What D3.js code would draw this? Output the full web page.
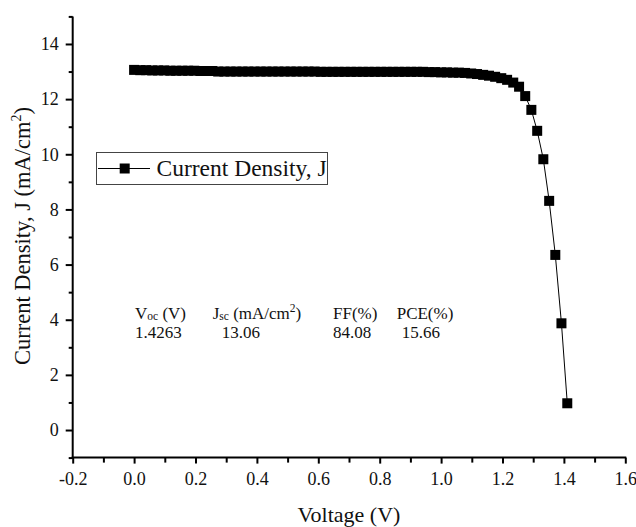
<!DOCTYPE html>
<html><head><meta charset="utf-8">
<script src="https://cdn.jsdelivr.net/npm/d3@7"></script>
<style>
body{margin:0;background:#fff}
svg{display:block}
svg text{font-family:"Liberation Serif","Times New Roman",serif !important;fill:#111}
</style></head>
<body><svg id="c" width="636" height="527"></svg>
<script>
// ---- data ----
const voltage = [
  0.000,0.020,0.039,0.059,0.078,0.098,0.118,0.137,0.157,0.176,
  0.196,0.216,0.235,0.255,0.274,0.294,0.314,0.333,0.353,0.372,
  0.392,0.412,0.431,0.451,0.470,0.490,0.510,0.529,0.549,0.568,
  0.588,0.608,0.627,0.647,0.666,0.686,0.706,0.725,0.745,0.764,
  0.784,0.804,0.823,0.843,0.862,0.882,0.902,0.921,0.941,0.960,
  0.980,1.000,1.019,1.039,1.058,1.078,1.098,1.117,1.137,1.156,
  1.176,1.196,1.215,1.235,1.254,1.274,1.294,1.313,1.333,1.352,
  1.372,1.392,1.411
];
const currentDensity = [
  13.06,13.05,13.05,13.04,13.04,13.04,13.03,13.03,13.03,13.03,
  13.03,13.02,13.02,13.02,13.00,13.00,13.00,13.00,13.00,13.00,
  13.00,13.00,13.00,13.00,13.00,13.00,13.00,13.00,13.00,13.00,
  13.00,12.99,12.99,12.99,12.99,12.99,12.99,12.99,12.99,12.99,
  12.99,12.99,12.99,12.99,12.99,12.99,12.99,12.99,12.99,12.98,
  12.98,12.97,12.97,12.96,12.96,12.95,12.93,12.91,12.88,12.85,
  12.81,12.76,12.70,12.60,12.45,12.11,11.61,10.85,9.82,8.31,
  6.35,3.87,0.97
];
const xMajorTicks = [-0.2,0.0,0.2,0.4,0.6,0.8,1.0,1.2,1.4,1.6];
const xTickLabels = ["-0.2","0.0","0.2","0.4","0.6","0.8","1.0","1.2","1.4","1.6"];
const xMinorTicks = [-0.1,0.1,0.3,0.5,0.7,0.9,1.1,1.3,1.5];
const yMajorTicks = [0,2,4,6,8,10,12,14];
const yMinorTicks = [-1,1,3,5,7,9,11,13,15];
const legendLabel = "Current Density, J";
const paramValues = ["1.4263","13.06","84.08","15.66"];

// ---- layout ----
const svg = d3.select("#c");
const x = d3.scaleLinear().domain([-0.2,1.6]).range([72.7,625.3]);
const y = d3.scaleLinear().domain([-1,15]).range([457.6,16.4]);

function styleAxis(g){
  g.attr("font-family",null);
  g.select(".domain").attr("stroke","#000").attr("stroke-width",2);
  g.selectAll(".tick line").attr("stroke","#000").attr("stroke-width",2);
  g.selectAll(".tick text").style("font-family","'Liberation Serif', serif").attr("font-size",18).attr("fill","#222");
}

// x axis
const gx = svg.append("g").attr("transform",`translate(0,${y(-1)})`)
  .call(d3.axisBottom(x).tickValues(xMajorTicks).tickSize(6).tickSizeOuter(0)
    .tickFormat((d,i)=>xTickLabels[i]).tickPadding(9));
styleAxis(gx);
gx.select(".domain").attr("d",`M${x(-0.2)-1},0H${x(1.6)+1}`);
svg.append("g").attr("transform",`translate(0,${y(-1)})`)
  .call(d3.axisBottom(x).tickValues(xMinorTicks).tickSize(5).tickFormat(""))
  .call(g=>{g.select(".domain").remove();g.selectAll("line").attr("stroke","#000").attr("stroke-width",2);});

// y axis
const gy = svg.append("g").attr("transform",`translate(${x(-0.2)},0)`)
  .call(d3.axisLeft(y).tickValues(yMajorTicks).tickSize(7).tickSizeOuter(0).tickPadding(7));
styleAxis(gy);
gy.select(".domain").attr("d",`M0,${y(15)}V${y(-1)+1}`);
svg.append("g").attr("transform",`translate(${x(-0.2)},0)`)
  .call(d3.axisLeft(y).tickValues(yMinorTicks).tickSize(4).tickFormat(""))
  .call(g=>{g.select(".domain").remove();g.selectAll("line").attr("stroke","#000").attr("stroke-width",2);});

// axis titles
svg.append("text").attr("x",(x(-0.2)+x(1.6))/2).attr("y",522).attr("text-anchor","middle")
  .attr("font-size",22).text("Voltage (V)");
const yt = svg.append("text").attr("transform",`translate(30,${236}) rotate(-90)`)
  .attr("text-anchor","middle").attr("font-size",22.5);
yt.append("tspan").text("Current Density, J (mA/cm");
yt.append("tspan").attr("font-size",14).attr("dy",-9).text("2");
yt.append("tspan").attr("dy",9).text(")");

// data line + markers
const pts = voltage.map((v,i)=>[v,currentDensity[i]]);
svg.append("path").datum(pts)
  .attr("d",d3.line().x(d=>x(d[0])).y(d=>y(d[1])))
  .attr("fill","none").attr("stroke","#000").attr("stroke-width",1);
const ms = 10;
svg.append("g").selectAll("rect").data(pts).join("rect")
  .attr("x",d=>x(d[0])-ms/2).attr("y",d=>y(d[1])-ms/2)
  .attr("width",ms).attr("height",ms).attr("fill","#000");

// legend
const lg = svg.append("g");
lg.append("rect").attr("x",96.5).attr("y",152.5).attr("width",231).attr("height",32)
  .attr("fill","#fff").attr("stroke","#444").attr("stroke-width",1);
lg.append("line").attr("x1",98).attr("x2",150).attr("y1",168.5).attr("y2",168.5)
  .attr("stroke","#000").attr("stroke-width",1);
lg.append("rect").attr("x",124.7-ms/2).attr("y",168.5-ms/2).attr("width",ms).attr("height",ms).attr("fill","#000");
lg.append("text").attr("x",156.5).attr("y",176).attr("font-size",23.5).text(legendLabel);

// parameter table
const pt = svg.append("g").attr("font-size",17);
const h1 = pt.append("text").attr("x",135).attr("y",319);
h1.append("tspan").text("V");
h1.append("tspan").attr("font-size",11.5).attr("dy",1).text("oc");
h1.append("tspan").attr("dy",-1).text(" (V)");
const h2 = pt.append("text").attr("x",212.7).attr("y",319);
h2.append("tspan").text("J");
h2.append("tspan").attr("font-size",11.5).attr("dy",1).text("sc");
h2.append("tspan").attr("dy",-1).text(" (mA/cm");
h2.append("tspan").attr("font-size",11.5).attr("dy",-7).text("2");
h2.append("tspan").attr("dy",7).text(")");
pt.append("text").attr("x",333).attr("y",319).text("FF(%)");
pt.append("text").attr("x",396.7).attr("y",319).text("PCE(%)");
const valX = [135,221.7,333,401.7];
paramValues.forEach((v,i)=>pt.append("text").attr("x",valX[i]).attr("y",338).text(v));
</script></body></html>
